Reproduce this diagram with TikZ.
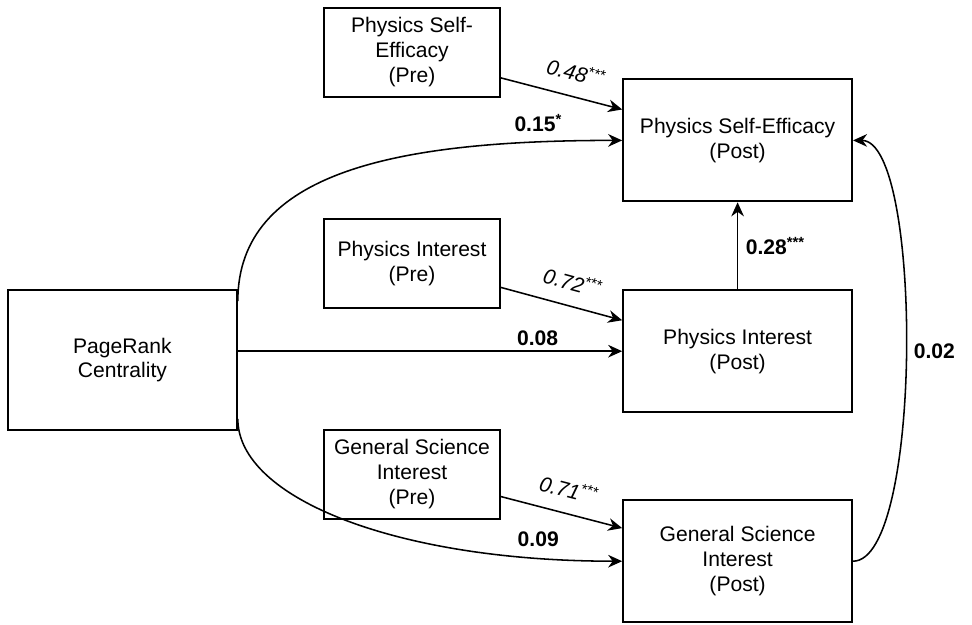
\documentclass[tikz,border=0pt]{standalone}
\usepackage{fontspec}
\setmainfont{Liberation Sans}
\usetikzlibrary{arrows.meta,positioning,calc}

\begin{document}
\begin{tikzpicture}[
  font=\fontsize{15}{17.7}\selectfont,
  box/.style={draw,line width=1.3pt,align=center,inner sep=2pt},
  prebox/.style={box,minimum width=4.4cm,minimum height=2.225cm},
  postbox/.style={box,minimum width=5.725cm,minimum height=3.05cm},
  arr/.style={-{Stealth[length=10pt,width=9pt]},line width=1.1pt},
  coef/.style={font=\fontsize{15}{17.7}\selectfont\bfseries},
  prelbl/.style={font=\fontsize{15}{17.7}\selectfont\itshape,sloped,above=7pt}
]
\useasboundingbox (0,0) rectangle (24.3,-15.625);

% Predictor
\node[box,minimum width=5.725cm,minimum height=3.5cm] (PR) at (3.06,-9.0)
  {PageRank\\Centrality};

% Pre measures
\node[prebox] (PSEpre) at (10.3,-1.31)  {Physics Self-\\Efficacy\\(Pre)};
\node[prebox] (PIpre)  at (10.3,-6.59)  {Physics Interest\\(Pre)};
\node[prebox] (GSIpre) at (10.3,-11.86) {General Science\\Interest\\(Pre)};

% Post measures
\node[postbox] (PSEpost) at (18.44,-3.51)  {Physics Self-Efficacy\\(Post)};
\node[postbox] (PIpost)  at (18.44,-8.78)  {Physics Interest\\(Post)};
\node[postbox] (GSIpost) at (18.44,-14.03) {General Science\\Interest\\(Post)};

% Pre -> Post
\draw[arr] (PSEpre.-16.5) -- (PSEpost.165.3)
  node[prelbl,pos=0.57] {0.48\textsuperscript{***}};
\draw[arr] (PIpre.-15.6) -- (PIpost.165.8)
  node[prelbl,pos=0.54] {0.72\textsuperscript{***}};
\draw[arr] (GSIpre.-14.3) -- (GSIpost.164.9)
  node[prelbl,pos=0.51] {0.71\textsuperscript{***}};

% PageRank -> Post
\draw[arr] (PR.27.6) .. controls +(0,3.25) and +(-5.6,0) .. (PSEpost.west)
  node[coef,pos=0.87,above=3.5pt] {0.15\textsuperscript{*}};
\draw[arr] (PR.east |- PIpost.west) -- (PIpost.west)
  node[coef,pos=0.78,above] {0.08};
\draw[arr] (PR.-27.6) .. controls +(0,-2) and +(-5.6,0) .. (GSIpost.west)
  node[coef,pos=0.87,above=4.5pt] {0.09};

% Post -> Post
\draw[arr] (PIpost) -- (PSEpost)
  node[coef,midway,right=2pt] {0.28\textsuperscript{***}};
\draw[arr] (GSIpost.east) .. controls +(1.75,0) and +(1.75,0) .. (PSEpost.east)
  node[coef,midway,right=2pt] {0.02};

\end{tikzpicture}
\end{document}
